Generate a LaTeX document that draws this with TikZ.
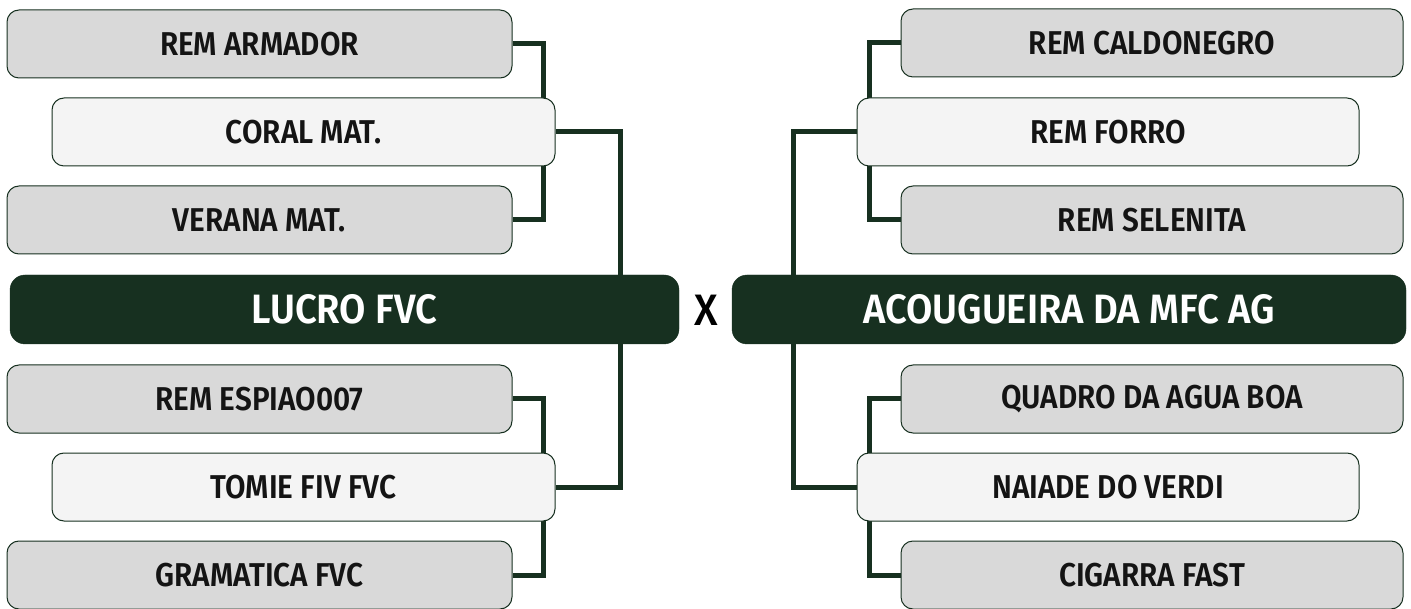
\documentclass[tikz,border=0pt]{standalone}
\usepackage{fontspec}
\setmainfont{Fira Sans}[FakeStretch=0.9, BoldFont={Fira Sans SemiBold}, BoldFeatures={FakeStretch=0.9}]
\newfontfamily\finalfont{Fira Sans SemiBold}[FakeStretch=0.93]
\newfontfamily\vsfont{Fira Sans Medium}[FakeStretch=0.95]
\usetikzlibrary{backgrounds}
\definecolor{dkgreen}{RGB}{23,48,32}
\definecolor{boxgray}{RGB}{217,217,217}
\definecolor{boxlight}{RGB}{244,244,244}
\tikzset{
  team/.style={draw=dkgreen, line width=1pt, rounded corners=12pt, fill=boxgray,
    minimum width=505pt, minimum height=68pt, inner sep=0pt,
    font=\fontsize{33}{36}\selectfont\bfseries, text=black!92},
  semi/.style={team, fill=boxlight, minimum width=503pt},
  finalist/.style={rounded corners=15pt, fill=dkgreen, draw=dkgreen,
    minimum height=69pt, inner sep=0pt,
    font=\finalfont\fontsize{41}{45}\selectfont, text=white},
  link/.style={draw=dkgreen, line width=5pt}
}
\begin{document}
\begin{tikzpicture}[x=1pt,y=-1pt]
\useasboundingbox (0,0) rectangle (1411,609);
% left side
\node[team] (a1) at (259.5,44) {REM ARMADOR};
\node[semi] (a2) at (303.5,132) {CORAL MAT.};
\node[team] (a3) at (259.5,220) {VERANA MAT.};
\node[finalist, minimum width=669pt] (L) at (344.5,309.5) {LUCRO FVC};
\node[team] (a4) at (259.5,399) {REM ESPIAO007};
\node[semi] (a5) at (303.5,487) {TOMIE FIV FVC};
\node[team] (a6) at (259.5,575) {GRAMATICA FVC};
% right side
\node[team, minimum width=502pt] (b1) at (1152,43) {REM CALDONEGRO};
\node[semi, minimum width=502pt] (b2) at (1108,132) {REM FORRO};
\node[team, minimum width=502pt] (b3) at (1152,220) {REM SELENITA};
\node[finalist, minimum width=674pt] (R) at (1069,309.5) {ACOUGUEIRA DA MFC AG};
\node[team, minimum width=502pt] (b4) at (1152,399) {QUADRO DA AGUA BOA};
\node[semi, minimum width=502pt] (b5) at (1108,487) {NAIADE DO VERDI};
\node[team, minimum width=502pt] (b6) at (1152,575) {CIGARRA FAST};
% versus
\node[font=\vsfont\fontsize{44}{48}\selectfont, text=black] (vs) at (706,310) {X};
\begin{scope}[on background layer]
\draw[link] (a1.east) -- ++(31,0) |- (a3.east);
\draw[link] (a4.east) -- ++(31,0) |- (a6.east);
\draw[link] (a2.east) -| ([xshift=275.5pt]L.north);
\draw[link] (a5.east) -| ([xshift=275.5pt]L.south);
\draw[link] (b1.west) -- ++(-31,0) |- (b3.west);
\draw[link] (b4.west) -- ++(-31,0) |- (b6.west);
\draw[link] (b2.west) -| ([xshift=-276pt]R.north);
\draw[link] (b5.west) -| ([xshift=-276pt]R.south);
\end{scope}
\end{tikzpicture}
\end{document}
